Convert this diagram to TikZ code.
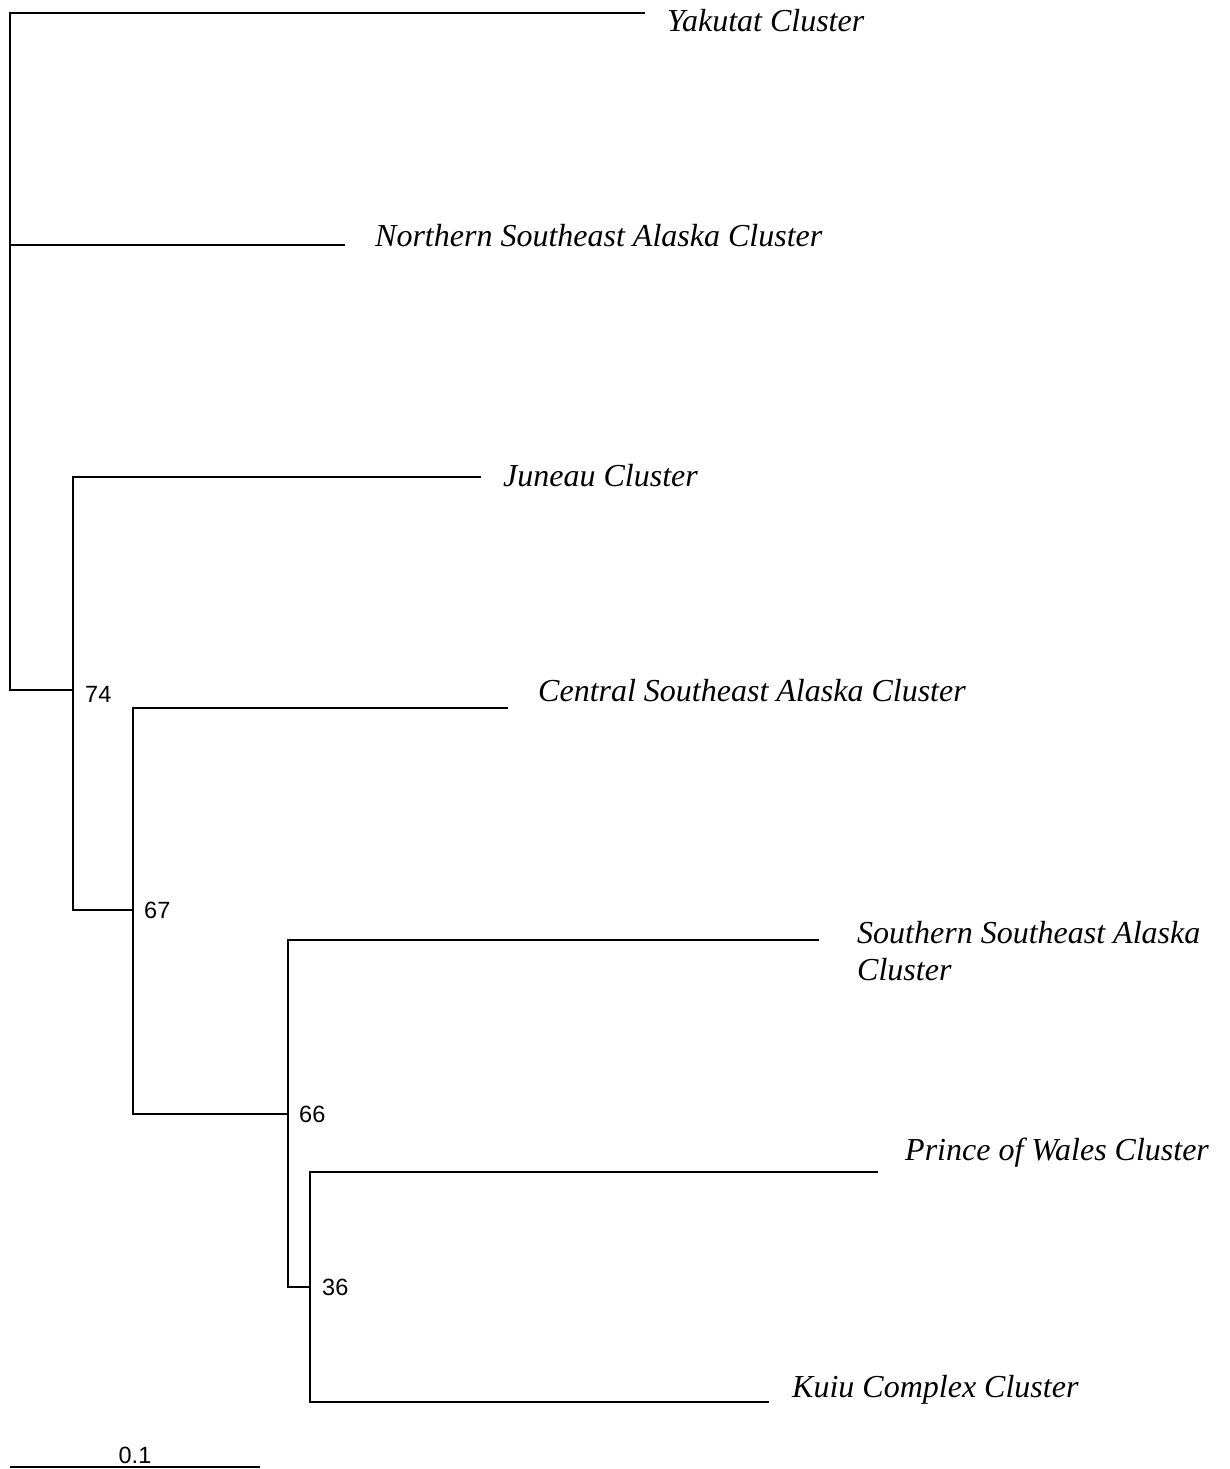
\documentclass[tikz,border=0pt]{standalone}
\usepackage{fontspec}
\setmainfont{Liberation Serif}
\newfontfamily\arialfont{Liberation Sans}
\begin{document}
\begin{tikzpicture}[x=1pt,y=-1pt,
  branch/.style={line width=2pt, line cap=rect, black},
  taxon/.style={anchor=base west, inner sep=0pt, font=\fontsize{32}{36}\selectfont\itshape},
  boot/.style={anchor=base west, inner sep=0pt, font=\arialfont\fontsize{23.5}{26}\selectfont}]
\useasboundingbox (0,0) rectangle (1230,1469);
% internal nodes
\coordinate (r) at (10,690);
\coordinate (n74) at (73,690);
\coordinate (n67) at (133,910);
\coordinate (n66) at (288,1114);
\coordinate (n36) at (310,1287);
% tips
\coordinate (yak) at (644,13);
\coordinate (nor) at (344,245);
\coordinate (jun) at (480,477);
\coordinate (cen) at (507,708);
\coordinate (sou) at (818,940);
\coordinate (pow) at (877,1172);
\coordinate (kui) at (768,1402);
% branches
\draw[branch] (yak) -| (r) -- (n74);
\draw[branch] (nor) -- (nor -| r);
\draw[branch] (jun) -| (n74) |- (n67);
\draw[branch] (cen) -| (n67) |- (n66);
\draw[branch] (sou) -| (n66) |- (n36);
\draw[branch] (pow) -| (n36) |- (kui);
% taxon labels
\node[taxon] (tyak) at (667,32) {Yakutat Cluster};
\node[taxon] (tnor) at (375,246) {Northern Southeast Alaska Cluster};
\node[taxon] (tjun) at (503,486) {Juneau Cluster};
\node[taxon] (tcen) at (538,701) {Central Southeast Alaska Cluster};
\node[taxon] (tsou) at (857,943) {Southern Southeast Alaska};
\node[taxon] (tsoub) at (857,980) {Cluster};
\node[taxon] (tpow) at (905,1160) {Prince of Wales Cluster};
\node[taxon] (tkui) at (792,1397) {Kuiu Complex Cluster};
% bootstrap values
\node[boot] (b74) at (85,702) {74};
\node[boot] (b67) at (144,918) {67};
\node[boot] (b66) at (299,1122) {66};
\node[boot] (b36) at (322,1295) {36};
% scale bar
\coordinate (s0) at (10,1467);
\coordinate (s1) at (260,1467);
\draw[branch, line cap=butt] (s0) -- (s1);
\node[boot, anchor=base] (sc) at (135,1463) {0.1};
\end{tikzpicture}
\end{document}
